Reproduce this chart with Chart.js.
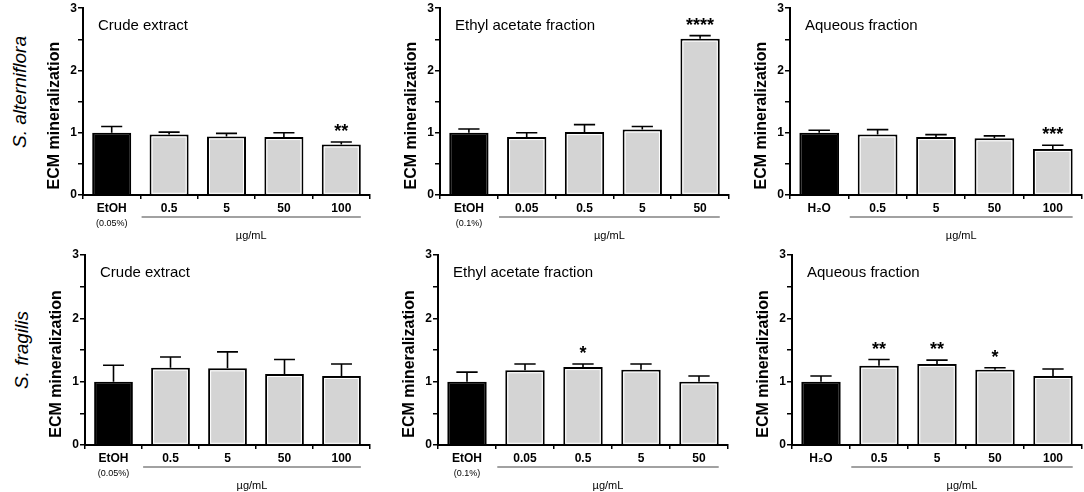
<!DOCTYPE html>
<html>
<head>
<meta charset="utf-8">
<script src="https://cdn.jsdelivr.net/npm/chart.js@4.4.0/dist/chart.umd.min.js"></script>
<style>
  html, body { margin: 0; padding: 0; background: #fff; overflow: hidden; }
  body { width: 1084px; height: 492px; position: relative; font-family: "Liberation Sans", Arial, sans-serif; }
  canvas { position: absolute; }
  .row-label { position: absolute; font-style: italic; font-size: 19px; white-space: nowrap; color: #000;
    transform: translate(-50%, -50%) rotate(-90deg); }
</style>
</head>
<body>
<div class="row-label" style="left:20px; top:92px">S. alterniflora</div>
<div class="row-label" style="left:22px; top:350px">S. fragilis</div>

<canvas id="p1" width="334" height="245" style="left:38px; top:0px"></canvas>
<canvas id="p2" width="336" height="245" style="left:395px; top:0px"></canvas>
<canvas id="p3" width="339" height="245" style="left:745px; top:0px"></canvas>
<canvas id="p4" width="332" height="247" style="left:40px; top:245px"></canvas>
<canvas id="p5" width="337" height="247" style="left:393px; top:245px"></canvas>
<canvas id="p6" width="337" height="247" style="left:747px; top:245px"></canvas>

<script>
// category labels
const crudeLabels = ["EtOH", "0.5", "5", "50", "100"];
const ethylLabels = ["EtOH", "0.05", "0.5", "5", "50"];
const aqueousLabels = ["H\u2082O", "0.5", "5", "50", "100"];
const crudeNote = "(0.05%)";
const ethylNote = "(0.1%)";
const unitLabel = "\u00b5g/mL";
const yTitle = "ECM mineralization";

// S. alterniflora (means, upper error, significance)
const altCrudeMean = [1.00, 0.97, 0.94, 0.93, 0.81];
const altCrudeErr = [0.10, 0.04, 0.05, 0.07, 0.04];
const altCrudeStars = ["", "", "", "", "**"];

const altEthylMean = [1.00, 0.93, 1.01, 1.05, 2.51];
const altEthylErr = [0.06, 0.07, 0.12, 0.05, 0.05];
const altEthylStars = ["", "", "", "", "****"];

const altAqMean = [1.00, 0.97, 0.93, 0.91, 0.74];
const altAqErr = [0.04, 0.08, 0.04, 0.04, 0.06];
const altAqStars = ["", "", "", "", "***"];

// S. fragilis
const fraCrudeMean = [1.00, 1.22, 1.21, 1.12, 1.09];
const fraCrudeErr = [0.26, 0.17, 0.26, 0.23, 0.19];
const fraCrudeStars = ["", "", "", "", ""];

const fraEthylMean = [1.00, 1.18, 1.23, 1.19, 1.00];
const fraEthylErr = [0.15, 0.10, 0.05, 0.09, 0.09];
const fraEthylStars = ["", "", "*", "", ""];

const fraAqMean = [1.00, 1.25, 1.28, 1.19, 1.09];
const fraAqErr = [0.09, 0.10, 0.06, 0.03, 0.11];
const fraAqStars = ["", "**", "**", "*", ""];

const FONT = "'Liberation Sans', Arial, sans-serif";

// error bars, stars, titles, concentration line
function extras(p) {
  return {
    id: "extras",
    afterDatasetsDraw(chart) {
      const { ctx, chartArea, scales: { y } } = chart;
      const bars = chart.getDatasetMeta(0).data;
      ctx.save();

      // thin light line inside the grey bars
      ctx.strokeStyle = "#fff";
      ctx.lineWidth = 1;
      bars.forEach((bar, i) => {
        if (i === 0) return;
        const l = bar.x - bar.width / 2 + 2.5, r = bar.x + bar.width / 2 - 2.5;
        ctx.strokeRect(l, bar.y + 2.5, r - l, bar.base - bar.y - 3.5);
      });

      ctx.strokeStyle = "#000";
      ctx.fillStyle = "#000";
      ctx.lineWidth = 1.6;
      bars.forEach((bar, i) => {
        const top = y.getPixelForValue(p.means[i] + p.errs[i]);
        const cap = bar.width * 0.27;
        ctx.beginPath();
        ctx.moveTo(bar.x, bar.y);
        ctx.lineTo(bar.x, top);
        ctx.moveTo(bar.x - cap, top);
        ctx.lineTo(bar.x + cap, top);
        ctx.stroke();
        if (p.stars[i]) {
          ctx.font = "bold 18px " + FONT;
          ctx.textAlign = "center";
          ctx.textBaseline = "alphabetic";
          ctx.fillText(p.stars[i], bar.x, top - 5);
        }
      });

      // panel title
      ctx.font = "15px " + FONT;
      ctx.textAlign = "left";
      ctx.textBaseline = "middle";
      ctx.fillText(p.title, chartArea.left + 15, chartArea.top + 18);

      // y axis title, sits a little low like the original
      ctx.save();
      ctx.translate(chartArea.left - 28, (chartArea.top + chartArea.bottom) / 2 + 14);
      ctx.rotate(-Math.PI / 2);
      ctx.font = "bold 16px " + FONT;
      ctx.textAlign = "center";
      ctx.fillText(yTitle, 0, 0);
      ctx.restore();

      // line under concentrations
      const base = chartArea.bottom;
      const first = bars[1], last = bars[bars.length - 1];
      const x0 = first.x - first.width / 2 - 8;
      const x1 = last.x + last.width / 2;
      ctx.strokeStyle = "#444";
      ctx.lineWidth = 1.2;
      ctx.beginPath();
      ctx.moveTo(x0, base + 22);
      ctx.lineTo(x1, base + 22);
      ctx.stroke();

      ctx.textAlign = "center";
      ctx.textBaseline = "middle";
      ctx.font = "11px " + FONT;
      ctx.fillText(unitLabel, (x0 + x1) / 2, base + 41);
      if (p.note) {
        ctx.font = "9px " + FONT;
        ctx.fillText(p.note, bars[0].x, base + 28.5);
      }
      ctx.restore();
    }
  };
}

function makePanel(id, labels, means, errs, stars, title, note, padTop, xHeight) {
  new Chart(document.getElementById(id), {
    type: "bar",
    data: {
      labels: labels,
      datasets: [{
        data: means,
        backgroundColor: means.map((_, i) => i === 0 ? "#000" : "#d4d4d4"),
        borderColor: "#000",
        borderWidth: 2,
        barPercentage: 0.68,
        categoryPercentage: 1
      }]
    },
    options: {
      responsive: false,
      animation: false,
      layout: { padding: { top: padTop, right: 2, left: 0, bottom: 0 } },
      plugins: { legend: { display: false }, tooltip: { enabled: false } },
      scales: {
        x: {
          grid: { drawOnChartArea: false, drawTicks: true, tickLength: 4, color: "#000", lineWidth: 1.5 },
          border: { color: "#000", width: 2 },
          ticks: { color: "#000", font: { family: FONT, size: 12, weight: "bold" }, padding: 2, maxRotation: 0, autoSkip: false },
          afterFit: s => { s.height = xHeight; }
        },
        y: {
          min: 0,
          max: 3,
          grid: { drawOnChartArea: false, drawTicks: true, tickLength: 5, color: "#000", lineWidth: 1.5 },
          border: { color: "#000", width: 2 },
          ticks: {
            stepSize: 0.5,
            autoSkip: false,
            color: "#000",
            padding: 1,
            font: { family: FONT, size: 12, weight: "bold" },
            callback: v => Number.isInteger(v) ? v : ""
          },
          title: { display: false },
          afterFit: s => { s.width = 45; }
        }
      }
    },
    plugins: [extras({ means, errs, stars, title, note })]
  });
}

makePanel("p1", crudeLabels, altCrudeMean, altCrudeErr, altCrudeStars, "Crude extract", crudeNote, 7, 50);
makePanel("p2", ethylLabels, altEthylMean, altEthylErr, altEthylStars, "Ethyl acetate fraction", ethylNote, 7, 50);
makePanel("p3", aqueousLabels, altAqMean, altAqErr, altAqStars, "Aqueous fraction", "", 7, 50);
makePanel("p4", crudeLabels, fraCrudeMean, fraCrudeErr, fraCrudeStars, "Crude extract", crudeNote, 10, 47);
makePanel("p5", ethylLabels, fraEthylMean, fraEthylErr, fraEthylStars, "Ethyl acetate fraction", ethylNote, 10, 47);
makePanel("p6", aqueousLabels, fraAqMean, fraAqErr, fraAqStars, "Aqueous fraction", "", 10, 47);
</script>
</body>
</html>
